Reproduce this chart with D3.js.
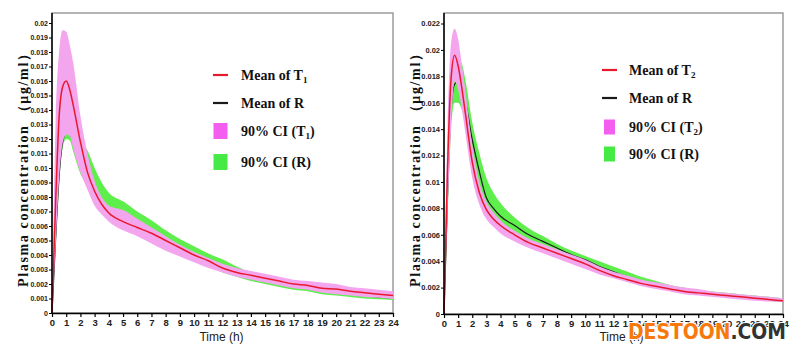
<!DOCTYPE html>
<html>
<head>
<meta charset="utf-8">
<script src="https://cdn.jsdelivr.net/npm/d3@7"></script>
<style>
  body { margin: 0; background: #fff; }
  svg { display: block; }
</style>
</head>
<body>
<svg id="chart"></svg>
<script>
// sampling times (h)
const times = [0, 0.25, 0.5, 0.75, 1, 1.25, 1.5, 2, 2.5, 3, 3.5, 4, 5, 6, 7, 8, 9, 10, 11, 12, 13, 14, 15, 16, 17, 18, 19, 20, 21, 22, 23, 24];

// left panel: T1 vs R
const t1Mean = [0, .0075, .0135, .0156, .0160, .0154, .0143, .0118, .0097, .0084, .0075, .0069, .0063, .0059, .0055, .0050, .0045, .0040, .0036, .0031, .0028, .0026, .0024, .0022, .0020, .0019, .0017, .00165, .0015, .0014, .0013, .0012];
const t1Hi = [0, .0130, .0180, .0195, .0194, .0185, .0172, .0136, .0110, .0091, .0080, .0074, .0071, .0065, .0059, .0053, .0047, .0042, .0038, .0034, .0031, .0029, .0027, .0025, .0023, .0022, .0021, .0020, .0018, .0017, .0016, .0015];
const t1Lo = [0, .0045, .0092, .0117, .0123, .0122, .0113, .0097, .0085, .0074, .0068, .0063, .0057, .0053, .0048, .0043, .0039, .0035, .0031, .0028, .0025, .0023, .0021, .0019, .0017, .0016, .0014, .0013, .0012, .0011, .00105, .00097];
const r1Mean = [0, .0050, .0094, .0118, .0124, .0123, .0118, .0105, .0098, .0087, .0078, .0070, .0067, .0062, .0056, .0050, .0045, .0040, .0036, .0032, .0029, .0026, .0023, .0021, .0019, .0017, .0015, .0014, .0013, .0012, .0011, .00105];
const r1Hi = [0, .0055, .0100, .0121, .0126, .0126, .0124, .0119, .0112, .0100, .0090, .0083, .0077, .0070, .0064, .0057, .0051, .0046, .0041, .0037, .0032, .0028, .0026, .0023, .0021, .0019, .0017, .0016, .0015, .0014, .0013, .0012];
const r1Lo = [0, .0044, .0090, .0114, .0120, .0119, .0111, .0096, .0088, .0078, .0070, .0064, .0059, .0054, .0049, .0044, .0040, .0036, .0032, .0028, .0025, .0022, .0020, .0018, .0016, .0015, .0013, .0012, .0011, .0010, .00095, .0009];

// right panel: T2 vs R
const t2Mean = [0, .0110, .0178, .0196, .0188, .0172, .0153, .0115, .0092, .0079, .0072, .0067, .0060, .0054, .0050, .0046, .0042, .0038, .0033, .0029, .0026, .0023, .0021, .0019, .0017, .0016, .0015, .0014, .0013, .0012, .0011, .0010];
const t2Hi = [0, .0140, .0205, .0216, .0208, .0190, .0170, .0128, .0100, .0085, .0077, .0071, .0063, .0057, .0053, .0049, .0045, .0041, .0036, .0032, .0029, .0026, .0024, .0022, .0020, .0019, .0017, .0016, .0015, .0014, .0013, .0012];
const t2Lo = [0, .0075, .0140, .0176, .0170, .0156, .0138, .0103, .0083, .0072, .0066, .0061, .0055, .0050, .0046, .0042, .0038, .0034, .0030, .0027, .0024, .0021, .0019, .0017, .0015, .0014, .0013, .0012, .0011, .0010, .00095, .0009];
const r2Mean = [0, .0090, .0155, .0174, .0176, .0172, .0162, .0132, .0108, .0088, .0080, .0074, .0067, .0060, .0055, .0050, .0045, .0041, .0036, .0032, .0028, .0025, .0022, .0020, .0018, .0016, .0015, .0014, .0013, .0012, .0011, .0010];
const r2Hi = [0, .0105, .0170, .0188, .0193, .0190, .0178, .0145, .0122, .0103, .0092, .0084, .0073, .0065, .0059, .0053, .0048, .0044, .0040, .0036, .0032, .0028, .0025, .0022, .0020, .0018, .0017, .0016, .0015, .0014, .0013, .0012];
const r2Lo = [0, .0070, .0140, .0160, .0160, .0155, .0146, .0120, .0095, .0079, .0072, .0067, .0061, .0055, .0051, .0047, .0042, .0038, .0034, .0030, .0026, .0023, .0020, .0018, .0016, .0015, .0014, .0013, .0012, .0011, .0010, .0009];

// ticks and labels
const xTicks = d3.range(0, 25, 1);
const yTicksLeft = d3.range(0, 21).map(i => i / 1000);
const yTicksRight = d3.range(0, 12).map(i => i * 2 / 1000);
const legendLeft = ["Mean of  T_1", "Mean of  R", "90% CI (T_1)", "90% CI (R)"];
const legendRight = ["Mean of  T_2", "Mean of  R", "90% CI (T_2)", "90% CI (R)"];
const yTitle = "Plasma  concentration （μg/ml）";
const xTitle = "Time (h)";

const pinkBand = "#f3a6ee", greenBand = "#5eef4c";
const pinkKey = "#f35ef0", greenKey = "#45ea45";
const redLine = "#e8182e", blackLine = "#1a1a1a";

const svg = d3.select("#chart")
  .attr("width", 800)
  .attr("height", 354)

const yFmt = d => d === 0 ? "0" : d3.format(".3~f")(d)

function drawPanel(p) {
  const xScale = d3.scaleLinear().domain([0, 24]).range([p.x0, p.x1])
  const yScale = d3.scaleLinear().domain([0, p.yMax]).range([p.y0, p.yTop])
  const g = svg.append("g")

  // grey frame
  g.append("rect")
    .attr("x", p.x0).attr("y", p.frameTop)
    .attr("width", p.x1 - p.x0).attr("height", p.y0 - p.frameTop)
    .attr("fill", "none")
    .attr("stroke", "#8c8c8c")
    .attr("stroke-width", 1.3)

  const band = (lo, hi) => d3.area()
    .x((d, i) => xScale(times[i]))
    .y0((d, i) => yScale(lo[i]))
    .y1((d, i) => yScale(hi[i]))
    .curve(d3.curveMonotoneX)(times)
  const line = vals => d3.line()
    .x((d, i) => xScale(times[i]))
    .y((d, i) => yScale(vals[i]))
    .curve(d3.curveMonotoneX)(times)

  // draw order: R band, R mean, T band, T mean
  g.append("path").attr("d", band(p.rLo, p.rHi)).attr("fill", greenBand)
  g.append("path").attr("d", line(p.rMean)).attr("fill", "none").attr("stroke", blackLine).attr("stroke-width", 1.2)
  g.append("path").attr("d", band(p.tLo, p.tHi)).attr("fill", pinkBand)
  g.append("path").attr("d", line(p.tMean)).attr("fill", "none").attr("stroke", redLine).attr("stroke-width", 1.5)

  // axes
  const yAxisGroup = g.append("g")
    .attr("transform", `translate(${p.x0},0)`)
    .call(d3.axisLeft(yScale).tickValues(p.yTicks).tickFormat(yFmt).tickSize(3).tickPadding(1).tickSizeOuter(0))
  yAxisGroup.select(".domain").attr("stroke", "#000").attr("stroke-width", 1.5).attr("d", `M0,${p.y0}V${p.frameTop}`)
  yAxisGroup.selectAll(".tick line").attr("stroke", "#000").attr("stroke-width", 1)
  yAxisGroup.selectAll(".tick text")
    .attr("font-family", "'Liberation Sans Narrow', 'Arial Narrow', 'Liberation Sans', sans-serif")
    .attr("font-weight", "bold")
    .attr("font-size", p.yFont)
    .attr("fill", "#222")

  const xAxisGroup = g.append("g")
    .attr("transform", `translate(0,${p.y0})`)
    .call(d3.axisBottom(xScale).tickValues(xTicks).tickSize(4).tickPadding(2).tickSizeOuter(0))
  xAxisGroup.select(".domain").attr("stroke", "#000").attr("stroke-width", 1.6)
  xAxisGroup.selectAll(".tick line").attr("stroke", "#000").attr("stroke-width", 1.2)
  xAxisGroup.selectAll(".tick text")
    .attr("font-family", "'Liberation Sans Narrow', 'Arial Narrow', 'Liberation Sans', sans-serif")
    .attr("font-weight", "bold")
    .attr("font-size", 9.5)
    .attr("fill", "#222")

  // axis titles
  g.append("text")
    .attr("x", (p.x0 + p.x1) / 2 + p.xTitleShift)
    .attr("y", 341)
    .attr("text-anchor", "middle")
    .attr("font-family", "'Liberation Sans Narrow', 'Arial Narrow', 'Liberation Sans', sans-serif")
    .attr("font-size", 12)
    .attr("fill", "#222")
    .text(xTitle)

  g.append("text")
    .attr("transform", `translate(${p.yTitleX},167)rotate(-90)`)
    .attr("text-anchor", "middle")
    .attr("dominant-baseline", "central")
    .attr("font-family", "'Liberation Serif', 'Times New Roman', serif")
    .attr("font-weight", "bold")
    .attr("font-size", 14)
    .attr("textLength", 240)
    .attr("lengthAdjust", "spacing")
    .attr("fill", "#111")
    .text(yTitle)

  // legend
  const kinds = ["line-red", "line-black", "box-pink", "box-green"]
  const leg = g.append("g")
  p.legend.forEach((label, i) => {
    const cy = p.legY[i]
    if (kinds[i].startsWith("line")) {
      leg.append("line")
        .attr("x1", p.legX).attr("x2", p.legX + p.keyW)
        .attr("y1", cy).attr("y2", cy)
        .attr("stroke", i === 0 ? redLine : blackLine)
        .attr("stroke-width", 2.2)
    } else {
      leg.append("rect")
        .attr("x", p.legX + (p.keyW - p.boxW) / 2).attr("y", cy - p.boxH / 2)
        .attr("width", p.boxW).attr("height", p.boxH)
        .attr("fill", i === 2 ? pinkKey : greenKey)
    }
    const parts = label.split("_")
    const txt = leg.append("text")
      .attr("x", p.legX + p.keyW + p.legGap)
      .attr("y", cy + 4.5)
      .attr("font-family", "'Liberation Serif', 'Times New Roman', serif")
      .attr("font-weight", "bold")
      .attr("font-size", 14)
      .attr("fill", "#111")
    txt.append("tspan").text(parts[0])
    if (parts.length > 1) {
      const rest = parts[1]
      txt.append("tspan").attr("font-size", 9).attr("dy", 3).text(rest[0])
      if (rest.length > 1) txt.append("tspan").attr("dy", -3).text(rest.slice(1))
    }
  })
}

drawPanel({
  x0: 52, x1: 393, y0: 313, yTop: 23, frameTop: 13, yMax: 0.02,
  yTicks: yTicksLeft, yFont: 7,
  tMean: t1Mean, tHi: t1Hi, tLo: t1Lo, rMean: r1Mean, rHi: r1Hi, rLo: r1Lo,
  legend: legendLeft, legX: 213, keyW: 15, boxW: 14, boxH: 16, legGap: 13,
  legY: [75, 103, 131, 162], yTitleX: 23, xTitleShift: -1
})

drawPanel({
  x0: 444, x1: 783, y0: 314, yTop: 23.5, frameTop: 13, yMax: 0.022,
  yTicks: yTicksRight, yFont: 7.5,
  tMean: t2Mean, tHi: t2Hi, tLo: t2Lo, rMean: r2Mean, rHi: r2Hi, rLo: r2Lo,
  legend: legendRight, legX: 602, keyW: 15, boxW: 11, boxH: 15, legGap: 12,
  legY: [70, 98, 127, 154], yTitleX: 415, xTitleShift: 8
})

// watermark
const wm = svg.append("text")
  .attr("x", 628)
  .attr("y", 339)
  .attr("font-family", "'DejaVu Sans', sans-serif")
  .attr("font-weight", "bold")
  .attr("font-size", 21)
  .attr("textLength", 158)
  .attr("lengthAdjust", "spacingAndGlyphs")
  .attr("stroke", "#fff")
  .attr("stroke-width", 2)
  .attr("paint-order", "stroke")
wm.append("tspan").attr("fill", "#f7790d").text("DESTOON")
wm.append("tspan").attr("fill", "#333").text(".COM")
</script>
</body>
</html>
